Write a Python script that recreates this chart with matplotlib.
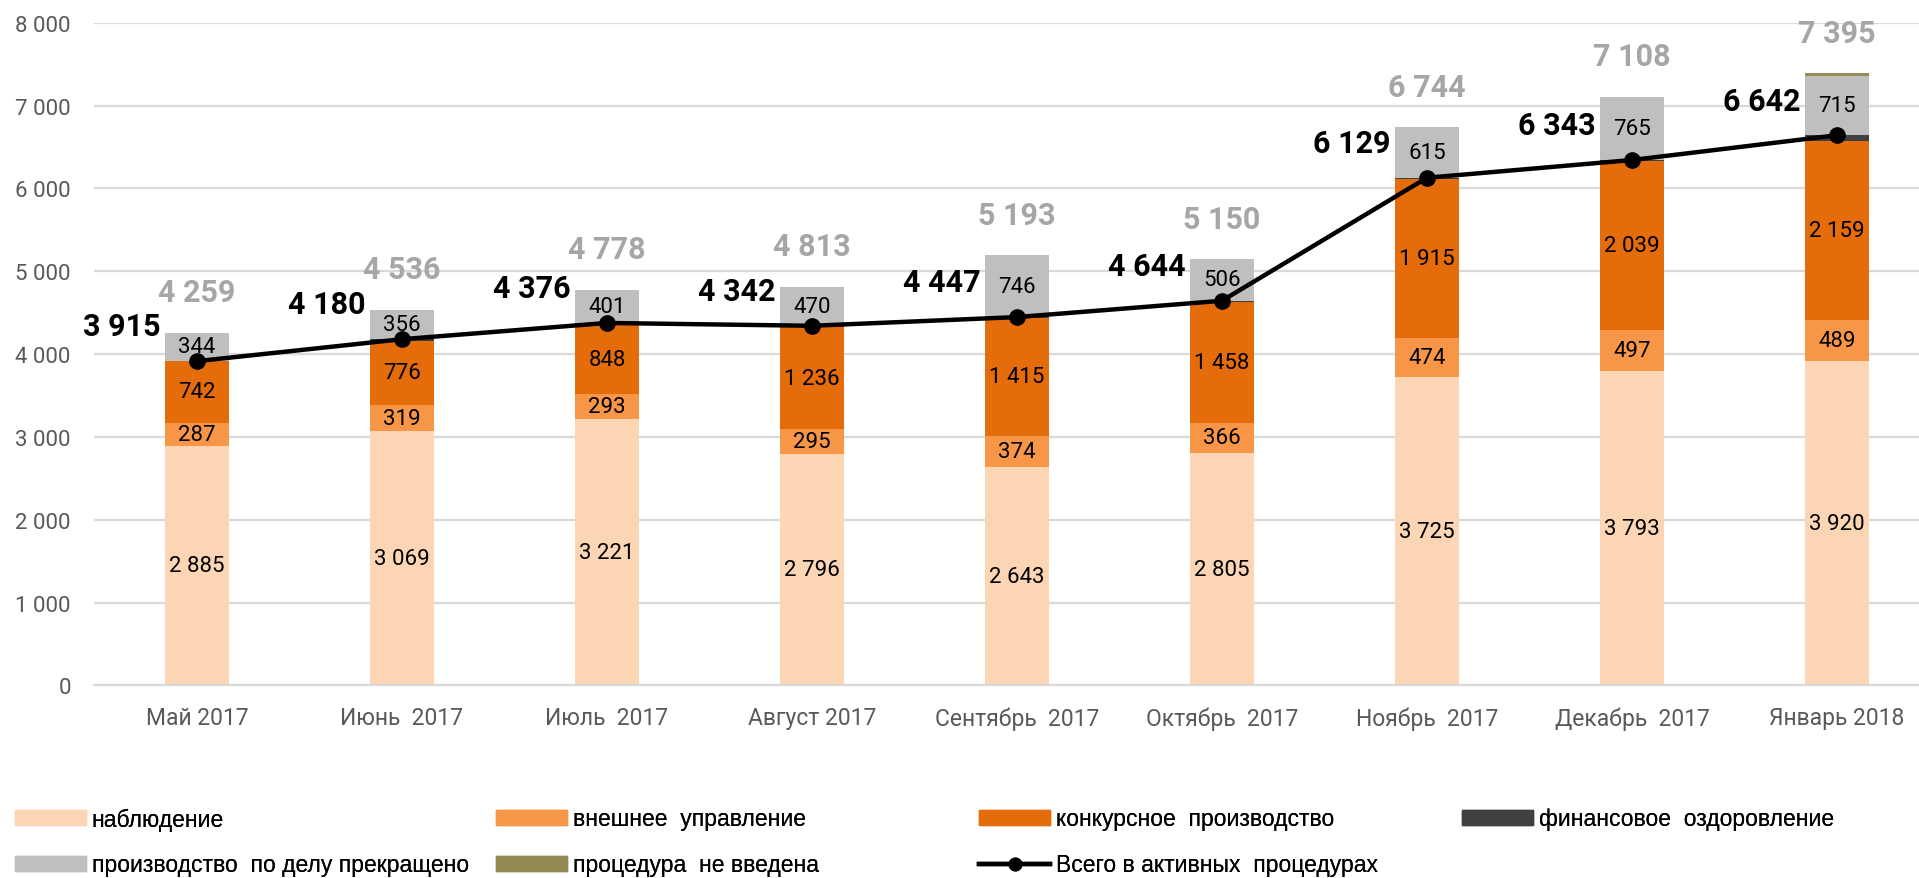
import matplotlib
matplotlib.use("Agg")
import matplotlib.pyplot as plt
from matplotlib.patches import Patch
from matplotlib.lines import Line2D
import numpy as np

months = ["Май 2017", "Июнь  2017", "Июль  2017", "Август 2017", "Сентябрь  2017",
          "Октябрь  2017", "Ноябрь  2017", "Декабрь  2017", "Январь 2018"]
nablyudenie = [2885, 3069, 3221, 2796, 2643, 2805, 3725, 3793, 3920]
vneshnee = [287, 319, 293, 295, 374, 366, 474, 497, 489]
konkursnoe = [742, 776, 848, 1236, 1415, 1458, 1915, 2039, 2159]
finansovoe = [1, 16, 14, 15, 15, 15, 15, 14, 74]
prekrashcheno = [344, 356, 401, 470, 746, 506, 615, 765, 715]
ne_vvedena = [0, 0, 1, 1, 0, 0, 0, 0, 38]
active_total = [3915, 4180, 4376, 4342, 4447, 4644, 6129, 6343, 6642]
grand_total = [4259, 4536, 4778, 4813, 5193, 5150, 6744, 7108, 7395]

series_names = ["наблюдение", "внешнее  управление", "конкурсное  производство",
                "финансовое  оздоровление", "производство  по делу прекращено",
                "процедура  не введена"]
colors = ["#FCD5B5", "#F79646", "#E46C0A", "#404040", "#BFBFBF", "#948A54"]
line_name = "Всего в активных  процедурах"

def fmt(v):
    return f"{v:,}".replace(",", " ")

plt.rcParams['font.family'] = ['Roboto', 'DejaVu Sans']

W, H = 1919, 879
fig = plt.figure(figsize=(W / 100, H / 100), dpi=100)
ax = fig.add_axes([0.0492, 0.219, 1 - 0.0492, 0.973 - 0.219])

x = np.arange(len(months))
w = 0.31
data = [nablyudenie, vneshnee, konkursnoe, finansovoe, prekrashcheno, ne_vvedena]
bottom = np.zeros(len(months))
labelled = {0, 1, 2, 4}
for i, (vals, c) in enumerate(zip(data, colors)):
    vals = np.array(vals, dtype=float)
    ax.bar(x, vals, w, bottom=bottom, color=c, zorder=2, linewidth=0)
    if i in labelled:
        for xi, b, v in zip(x, bottom, vals):
            ax.text(xi, b + v / 2, fmt(int(v)), ha='center', va='center',
                    fontsize=16, color='black', zorder=5)
    bottom += vals

ax.plot(x, active_total, color='black', lw=3.2, marker='o', markersize=11, zorder=4)

for xi, v in zip(x, active_total):
    ax.annotate(fmt(v), (xi, v), xytext=(-26, 25), textcoords='offset points',
                ha='right', va='center', fontsize=22, fontweight='bold', color='black', zorder=6)

for xi, v, top in zip(x, grand_total, bottom):
    ax.annotate(fmt(v), (xi, top), xytext=(0, 29), textcoords='offset points',
                ha='center', va='center', fontsize=22, fontweight='bold', color='#A6A6A6', zorder=6)

ax.set_ylim(0, 8000)
ax.set_xlim(-0.5, 8.4)
ax.set_yticks(range(0, 8001, 1000))
ax.set_yticklabels([fmt(v) for v in range(0, 8001, 1000)])
ax.set_xticks(x)
ax.set_xticklabels(months)
ax.tick_params(axis='y', length=0, pad=17, labelsize=16, labelcolor='#595959')
ax.tick_params(axis='x', length=0, pad=15, labelsize=16.5, labelcolor='#595959')
ax.grid(axis='y', color='#D9D9D9', lw=1.6, zorder=0)
ax.set_axisbelow(True)
for s in ['top', 'right', 'left']:
    ax.spines[s].set_visible(False)
ax.spines['bottom'].set_color('#D9D9D9')
ax.spines['bottom'].set_linewidth(1.6)

h = [Patch(color=c, label=n) for c, n in zip(colors, series_names)]
hl = Line2D([], [], color='black', lw=3.2, marker='o', markersize=9, label=line_name)
# (handle, x_px, y_px)
placement = [(h[0], 15, 820), (h[1], 496, 820), (h[2], 979, 820), (h[3], 1462, 820),
             (h[4], 15, 866), (h[5], 496, 866), (hl, 979, 866)]
for hd, px, py in placement:
    leg = fig.legend(handles=[hd], labels=[hd.get_label()], loc='center left',
                     bbox_to_anchor=(px / W, 1 - py / H), frameon=False,
                     handlelength=3.1, handleheight=0.6, handletextpad=0.25,
                     borderpad=0, borderaxespad=0,
                     prop={'family': ['Liberation Sans Narrow', 'Liberation Sans'], 'size': 16.5})
    fig.add_artist(leg)

fig.savefig("out.png", dpi=100)
